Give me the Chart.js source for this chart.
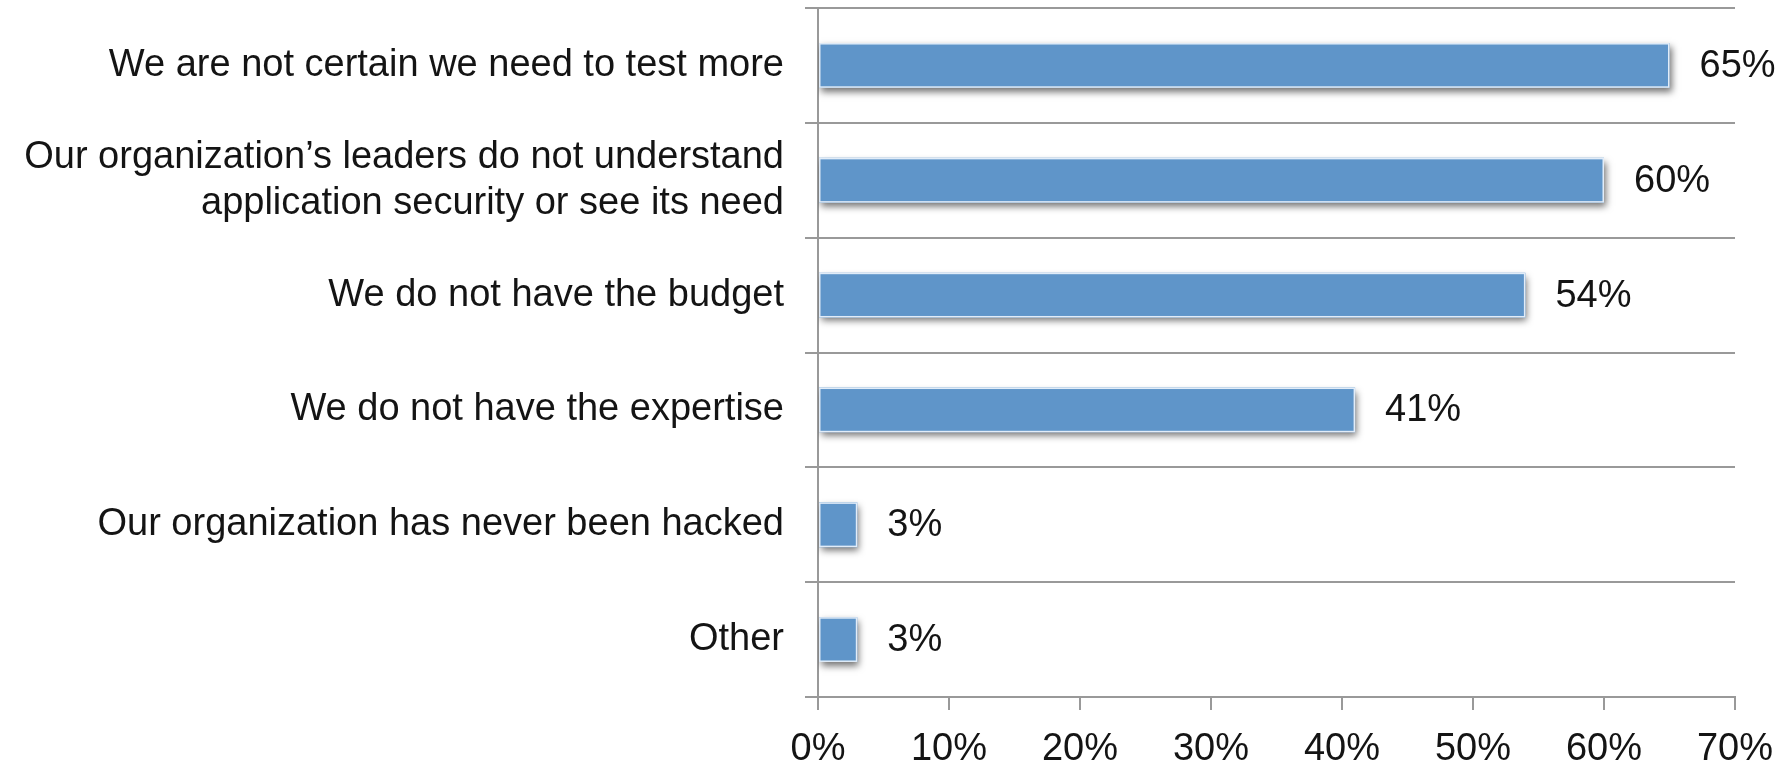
<!DOCTYPE html>
<html>
<head>
<meta charset="utf-8">
<script src="https://cdn.jsdelivr.net/npm/chart.js@4"></script>
<style>
  html, body { margin: 0; padding: 0; background: #fff; overflow: hidden; }
  #wrap { width: 1781px; height: 760px; position: relative; }
</style>
</head>
<body>
<div id="wrap"><canvas id="grafica"></canvas></div>
<script>
const razones = [
    'We are not certain we need to test more',
    ['Our organization\u2019s leaders do not understand', 'application security or see its need'],
    'We do not have the budget',
    'We do not have the expertise',
    'Our organization has never been hacked',
    'Other'
];
const porcentajes = [65, 60, 54, 41, 3, 3];
const ticksX = [0, 10, 20, 30, 40, 50, 60, 70];

const fuente = { family: '"Liberation Sans", Arial, Helvetica, sans-serif', size: 38 };
const gris = '#999999';
const colorTexto = '#141414';

// sombra bajo las barras (sin borde: el borde recorta la sombra)
const sombraBarras = {
    id: 'sombraBarras',
    beforeDatasetsDraw(chart) {
        const ctx = chart.ctx;
        ctx.save();
        ctx.shadowColor = 'rgba(0, 0, 0, 0.55)';
        ctx.shadowBlur = 7;
        ctx.shadowOffsetX = 2;
        ctx.shadowOffsetY = 4;
    },
    afterDatasetsDraw(chart) {
        const ctx = chart.ctx;
        ctx.restore();
        // filo claro alrededor de cada barra
        ctx.save();
        ctx.strokeStyle = 'rgba(225, 236, 248, 1)';
        ctx.lineWidth = 1.5;
        chart.getDatasetMeta(0).data.forEach(bar => {
            const { x, y, base, height } = bar.getProps(['x', 'y', 'base', 'height']);
            ctx.strokeRect(base + 0.75, y - height / 2 + 0.75, x - base - 1.5, height - 1.5);
        });
        ctx.restore();
    }
};

// etiquetas con el valor al final de cada barra
const etiquetasValor = {
    id: 'etiquetasValor',
    afterDraw(chart) {
        const ctx = chart.ctx;
        const meta = chart.getDatasetMeta(0);
        ctx.save();
        ctx.font = fuente.size + 'px ' + fuente.family;
        ctx.fillStyle = colorTexto;
        ctx.textAlign = 'left';
        ctx.textBaseline = 'middle';
        meta.data.forEach((bar, i) => {
            ctx.fillText(porcentajes[i] + '%', bar.x + 30, bar.y + 1);
        });
        ctx.restore();
    }
};

new Chart(document.getElementById('grafica'), {
    type: 'bar',
    data: {
        labels: razones,
        datasets: [{
            data: porcentajes,
            backgroundColor: '#5f95c9',
            borderWidth: 0,
            categoryPercentage: 1,
            barPercentage: 0.39
        }]
    },
    options: {
        indexAxis: 'y',
        responsive: true,
        maintainAspectRatio: false,
        animation: false,
        layout: { padding: { top: 8, right: 46, left: 0, bottom: 0 } },
        plugins: {
            legend: { display: false },
            tooltip: { enabled: false }
        },
        scales: {
            x: {
                min: 0,
                max: 70,
                afterBuildTicks(scale) {
                    scale.ticks = ticksX.map(v => ({ value: v }));
                },
                afterFit(scale) {
                    scale.height = 63;
                    scale.paddingLeft = 0;
                    scale.paddingRight = 0;
                },
                grid: { drawOnChartArea: false, tickLength: 13, color: gris, lineWidth: 2 },
                border: { display: true, color: gris, width: 2 },
                ticks: {
                    padding: 17,
                    color: colorTexto,
                    font: fuente,
                    maxRotation: 0,
                    callback: v => v + '%'
                }
            },
            y: {
                afterFit(scale) {
                    scale.width = 818;
                    scale.paddingTop = 0;
                    scale.paddingBottom = 0;
                },
                grid: { offset: true, tickLength: 13, color: gris, lineWidth: 2 },
                border: { display: true, color: gris, width: 2 },
                ticks: {
                    padding: 21,
                    color: colorTexto,
                    font: fuente
                }
            }
        }
    },
    plugins: [sombraBarras, etiquetasValor]
});
</script>
</body>
</html>
